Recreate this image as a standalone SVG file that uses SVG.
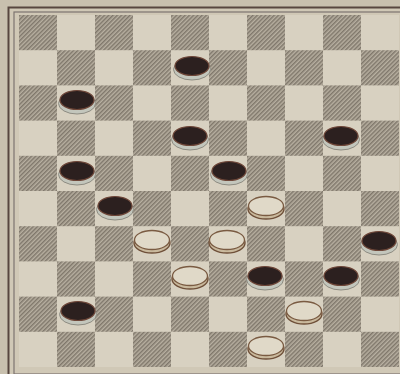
<svg xmlns="http://www.w3.org/2000/svg" width="400" height="374" viewBox="0 0 400 374">
<defs>
<pattern id="hatch" width="3" height="3" patternUnits="userSpaceOnUse" patternTransform="rotate(45)">
<rect width="3" height="3" fill="#b8b0a1"/>
<line x1="0.75" y1="0" x2="0.75" y2="3" stroke="#7c7468" stroke-width="1.4"/>
</pattern>
<g id="blk">
<ellipse cx="0" cy="3.5" rx="18.5" ry="10.5" fill="#c3c6bc" stroke="#8e8c82" stroke-width="1"/>
<ellipse cx="0" cy="0" rx="17" ry="9.5" fill="#2c201f" stroke="#6e4638" stroke-width="1.2"/>
</g>
<g id="wht">
<ellipse cx="0" cy="3" rx="18" ry="10" fill="#c9b99d" stroke="#6f5039" stroke-width="1.4"/>
<ellipse cx="0" cy="0" rx="17.5" ry="9.5" fill="#e0d9c8" stroke="#7a5b42" stroke-width="1.3"/>
</g>
</defs>
<style>
.lt{fill:#d8d1c1}
.dk{fill:url(#hatch)}
</style>
<rect width="400" height="374" fill="#c8c0ae"/>
<rect x="8.5" y="7.5" width="400" height="375" fill="#d0c8b6" stroke="#57463f" stroke-width="2"/>
<rect x="14" y="12" width="400" height="362" fill="none" stroke="#7d7470" stroke-width="1.2"/>
<g id="board">
<rect x="19" y="15" width="380" height="352" class="lt"/>
<g id="dark">
<rect x="19" y="15" width="38" height="35.2" class="dk"/><rect x="95" y="15" width="38" height="35.2" class="dk"/><rect x="171" y="15" width="38" height="35.2" class="dk"/><rect x="247" y="15" width="38" height="35.2" class="dk"/><rect x="323" y="15" width="38" height="35.2" class="dk"/>
<rect x="57" y="50.2" width="38" height="35.2" class="dk"/><rect x="133" y="50.2" width="38" height="35.2" class="dk"/><rect x="209" y="50.2" width="38" height="35.2" class="dk"/><rect x="285" y="50.2" width="38" height="35.2" class="dk"/><rect x="361" y="50.2" width="38" height="35.2" class="dk"/>
<rect x="19" y="85.4" width="38" height="35.2" class="dk"/><rect x="95" y="85.4" width="38" height="35.2" class="dk"/><rect x="171" y="85.4" width="38" height="35.2" class="dk"/><rect x="247" y="85.4" width="38" height="35.2" class="dk"/><rect x="323" y="85.4" width="38" height="35.2" class="dk"/>
<rect x="57" y="120.6" width="38" height="35.2" class="dk"/><rect x="133" y="120.6" width="38" height="35.2" class="dk"/><rect x="209" y="120.6" width="38" height="35.2" class="dk"/><rect x="285" y="120.6" width="38" height="35.2" class="dk"/><rect x="361" y="120.6" width="38" height="35.2" class="dk"/>
<rect x="19" y="155.8" width="38" height="35.2" class="dk"/><rect x="95" y="155.8" width="38" height="35.2" class="dk"/><rect x="171" y="155.8" width="38" height="35.2" class="dk"/><rect x="247" y="155.8" width="38" height="35.2" class="dk"/><rect x="323" y="155.8" width="38" height="35.2" class="dk"/>
<rect x="57" y="191" width="38" height="35.2" class="dk"/><rect x="133" y="191" width="38" height="35.2" class="dk"/><rect x="209" y="191" width="38" height="35.2" class="dk"/><rect x="285" y="191" width="38" height="35.2" class="dk"/><rect x="361" y="191" width="38" height="35.2" class="dk"/>
<rect x="19" y="226.2" width="38" height="35.2" class="dk"/><rect x="95" y="226.2" width="38" height="35.2" class="dk"/><rect x="171" y="226.2" width="38" height="35.2" class="dk"/><rect x="247" y="226.2" width="38" height="35.2" class="dk"/><rect x="323" y="226.2" width="38" height="35.2" class="dk"/>
<rect x="57" y="261.4" width="38" height="35.2" class="dk"/><rect x="133" y="261.4" width="38" height="35.2" class="dk"/><rect x="209" y="261.4" width="38" height="35.2" class="dk"/><rect x="285" y="261.4" width="38" height="35.2" class="dk"/><rect x="361" y="261.4" width="38" height="35.2" class="dk"/>
<rect x="19" y="296.6" width="38" height="35.2" class="dk"/><rect x="95" y="296.6" width="38" height="35.2" class="dk"/><rect x="171" y="296.6" width="38" height="35.2" class="dk"/><rect x="247" y="296.6" width="38" height="35.2" class="dk"/><rect x="323" y="296.6" width="38" height="35.2" class="dk"/>
<rect x="57" y="331.8" width="38" height="35.2" class="dk"/><rect x="133" y="331.8" width="38" height="35.2" class="dk"/><rect x="209" y="331.8" width="38" height="35.2" class="dk"/><rect x="285" y="331.8" width="38" height="35.2" class="dk"/><rect x="361" y="331.8" width="38" height="35.2" class="dk"/>
</g>
</g>
<g id="black-pieces">
<use href="#blk" x="192" y="66"/>
<use href="#blk" x="77" y="100"/>
<use href="#blk" x="190" y="136"/>
<use href="#blk" x="341" y="136"/>
<use href="#blk" x="77" y="171"/>
<use href="#blk" x="229" y="171"/>
<use href="#blk" x="115" y="206"/>
<use href="#blk" x="379" y="241"/>
<use href="#blk" x="265" y="276"/>
<use href="#blk" x="341" y="276"/>
<use href="#blk" x="78" y="311"/>
</g>
<g id="white-pieces">
<use href="#wht" x="266" y="206"/>
<use href="#wht" x="152" y="240"/>
<use href="#wht" x="227" y="240"/>
<use href="#wht" x="190" y="276"/>
<use href="#wht" x="304" y="311"/>
<use href="#wht" x="266" y="346"/>
</g>
</svg>
